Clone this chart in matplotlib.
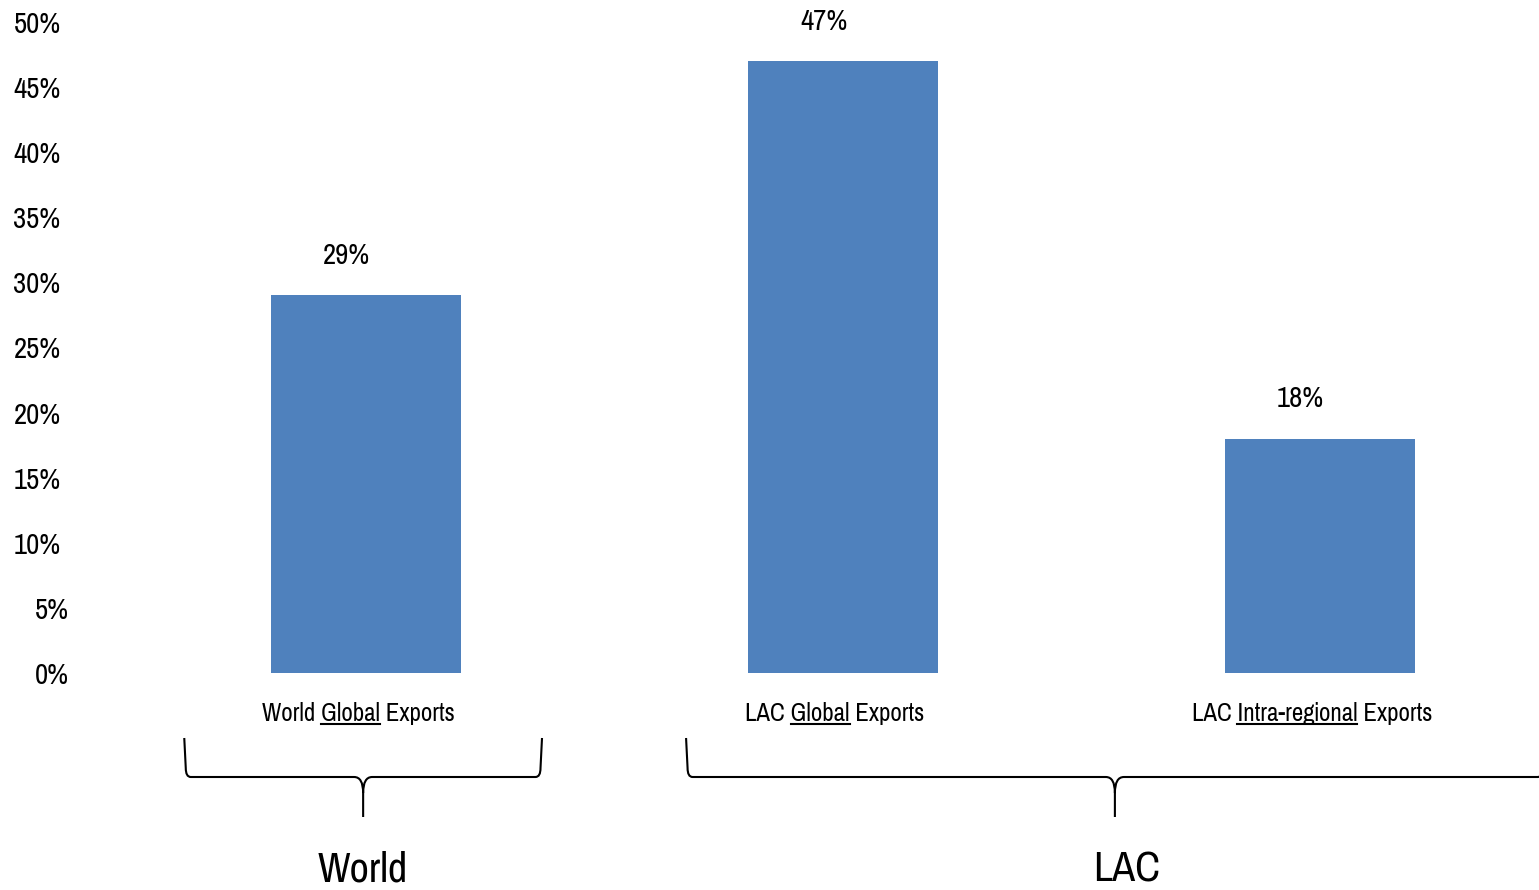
import matplotlib
matplotlib.use("Agg")
import matplotlib.pyplot as plt
from matplotlib.path import Path
from matplotlib.patches import PathPatch
from matplotlib.lines import Line2D
from matplotlib.transforms import ScaledTranslation

plt.rcParams['font.family'] = ['Pragati Narrow', 'Roboto Condensed', 'DejaVu Sans']

# export shares (%)
prefixes = ['World', 'LAC', 'LAC']
underlined = ['Global', 'Global', 'Intra-regional']
suffixes = ['Exports', 'Exports', 'Exports']
shares = [29, 47, 18]
yticks = [0, 5, 10, 15, 20, 25, 30, 35, 40, 45, 50]

# groups: name, brace start/end/tip and label x in category units
groups = ['World', 'LAC']
group_spans = [(-0.381, 0.369, -0.006), (0.671, 2.47, 1.570)]
group_label_x = [-0.006, 1.595]

W, H = 1539, 890
fig = plt.figure(figsize=(W / 100, H / 100), dpi=100)
ax_left, ax_bottom, ax_top = 80, 673, 22
ax = fig.add_axes([ax_left / W, (H - ax_bottom) / H, 1 - ax_left / W,
                   (ax_bottom - ax_top) / H])

x = list(range(len(shares)))
bar_color = '#4F81BD'
ax.bar(x, shares, width=0.398, color=bar_color, zorder=2)

# x limits so categories sit 477 px apart, first one at 366 px
step = 477.0
ax.set_xlim((ax_left - 366) / step, (W - 366) / step)
ax.set_ylim(0, 50)

for s in ax.spines.values():
    s.set_visible(False)

ax.set_yticks(yticks)
ax.set_yticklabels(['{0}%'.format(t) for t in yticks], fontsize=22.5)
ax.tick_params(axis='y', length=0, pad=14)
for t, lab in zip(yticks, ax.get_yticklabels()):
    if t < 10:
        lab.set_transform(lab.get_transform() +
                          ScaledTranslation(8 / 100, 0, fig.dpi_scale_trans))

labels = ['{0} {1} {2}'.format(p, u, s) for p, u, s in zip(prefixes, underlined, suffixes)]
ax.set_xticks(x)
ax.set_xticklabels(labels, fontsize=19.5)
ax.tick_params(axis='x', length=0, pad=21)
for lab in ax.get_xticklabels():
    lab.set_transform(lab.get_transform() +
                      ScaledTranslation(-8 / 100, 0, fig.dpi_scale_trans))

# value labels above bars
for xi, v in zip(x, shares):
    ax.annotate('{0}%'.format(v), xy=(xi, v), xytext=(-14, 19),
                textcoords='offset points', ha='center', va='bottom',
                fontsize=22.5, annotation_clip=False)

# underline the middle word of each category label
fig.canvas.draw()
renderer = fig.canvas.get_renderer()
for lab, p, u in zip(ax.get_xticklabels(), prefixes, underlined):
    bb = lab.get_window_extent(renderer)
    prop = lab.get_fontproperties()
    w_full, _, _ = renderer.get_text_width_height_descent(p + ' ' + u, prop, ismath=False)
    w_word, _, _ = renderer.get_text_width_height_descent(u, prop, ismath=False)
    _, _, desc = renderer.get_text_width_height_descent(lab.get_text(), prop, ismath=False)
    base = bb.y0 + desc
    x0 = bb.x0 + w_full - w_word
    fig.add_artist(Line2D([x0, bb.x0 + w_full], [base - 2.5, base - 2.5],
                          transform=None, color='black', lw=1.5))


def brace(x0, x1, xm, y_top, y_mid, y_bot):
    re_x, re_y = 5, 9
    rt_x, rt_y = 9, 16
    verts = [(x0, y_top), (x0 + 1.5, y_mid + re_y), (x0 + 1.5, y_mid), (x0 + 1.5 + re_x, y_mid),
             (xm - rt_x, y_mid), (xm, y_mid), (xm, y_mid - rt_y), (xm, y_bot),
             (xm, y_mid - rt_y), (xm, y_mid), (xm + rt_x, y_mid),
             (x1 - 1.5 - re_x, y_mid), (x1 - 1.5, y_mid), (x1 - 1.5, y_mid + re_y), (x1, y_top)]
    codes = [Path.MOVETO, Path.LINETO, Path.CURVE3, Path.CURVE3,
             Path.LINETO, Path.CURVE3, Path.CURVE3, Path.LINETO,
             Path.MOVETO, Path.CURVE3, Path.CURVE3,
             Path.LINETO, Path.CURVE3, Path.CURVE3, Path.LINETO]
    patch = PathPatch(Path(verts, codes), transform=None, fill=False,
                      edgecolor='black', lw=1.5, clip_on=False)
    fig.add_artist(patch)


for name, (a, b, tip), lx in zip(groups, group_spans, group_label_x):
    px = [ax.transData.transform((v, 0))[0] for v in (a, b, tip, lx)]
    brace(px[0], px[1], px[2], H - 738, H - 777, H - 817)
    fig.text(px[3] / W, 1 / H, name, ha='center', va='bottom', fontsize=33)

fig.savefig('out.png', dpi=100)
